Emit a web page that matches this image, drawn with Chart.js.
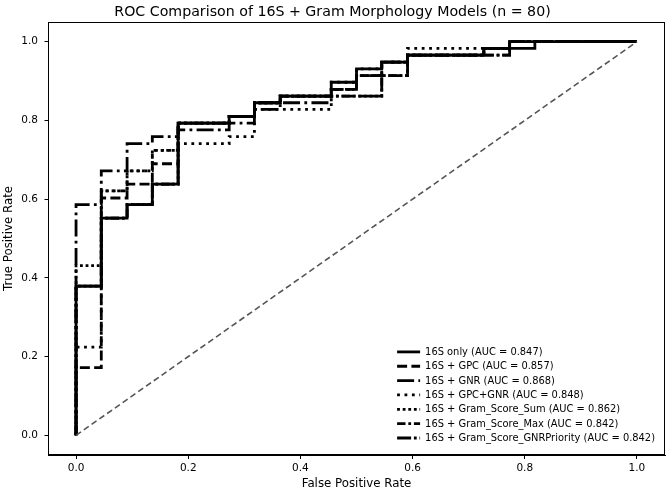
<!DOCTYPE html>
<html><head><meta charset="utf-8">
<script src="https://cdn.jsdelivr.net/npm/chart.js@4/dist/chart.umd.min.js"></script>
<style>html,body{margin:0;padding:0;background:#fff}#wrap{width:668px;height:492px}</style>
</head><body><div id="wrap"><canvas id="c" width="668" height="492"></canvas></div>
<script>
const chartTitle = 'ROC Comparison of 16S + Gram Morphology Models (n = 80)';
const xLabel = 'False Positive Rate';
const yLabel = 'True Positive Rate';
const tickValues = [0.0, 0.2, 0.4, 0.6, 0.8, 1.0];

const modelNames = [
  '16S only (AUC = 0.847)',
  '16S + GPC (AUC = 0.857)',
  '16S + GNR (AUC = 0.868)',
  '16S + GPC+GNR (AUC = 0.848)',
  '16S + Gram_Score_Sum (AUC = 0.862)',
  '16S + Gram_Score_Max (AUC = 0.842)',
  '16S + Gram_Score_GNRPriority (AUC = 0.842)'
];

const fpr16S = [0,0,0.045,0.045,0.091,0.091,0.136,0.136,0.182,0.182,0.273,0.273,0.318,0.318,0.364,0.364,0.455,0.455,0.5,0.5,0.545,0.545,0.591,0.591,0.727,0.727,0.818,0.818,1];
const tpr16S = [0,0.379,0.379,0.552,0.552,0.586,0.586,0.638,0.638,0.793,0.793,0.81,0.81,0.845,0.845,0.862,0.862,0.897,0.897,0.931,0.931,0.948,0.948,0.966,0.966,0.983,0.983,1,1];

const fprGPC = [0,0,0.045,0.045,0.091,0.091,0.136,0.136,0.182,0.182,0.273,0.273,0.318,0.318,0.364,0.364,0.455,0.455,0.5,0.5,0.545,0.545,0.591,0.591,0.727,0.727,0.773,0.773,1];
const tprGPC = [0,0.172,0.172,0.603,0.603,0.638,0.638,0.69,0.69,0.793,0.793,0.81,0.81,0.845,0.845,0.862,0.862,0.879,0.879,0.914,0.914,0.948,0.948,0.966,0.966,0.983,0.983,1,1];

const fprGNR = [0,0,0.045,0.045,0.091,0.091,0.136,0.136,0.182,0.182,0.273,0.273,0.318,0.318,0.364,0.364,0.455,0.455,0.5,0.5,0.545,0.545,0.591,0.591,0.727,0.727,0.773,0.773,1];
const tprGNR = [0,0.586,0.586,0.672,0.672,0.741,0.741,0.759,0.759,0.776,0.776,0.793,0.793,0.828,0.828,0.845,0.845,0.879,0.879,0.914,0.914,0.948,0.948,0.966,0.966,0.983,0.983,1,1];

const fprGPCGNR = [0,0,0.045,0.045,0.091,0.091,0.136,0.136,0.182,0.182,0.273,0.273,0.318,0.318,0.455,0.455,0.5,0.5,0.545,0.545,0.591,0.591,0.773,0.773,1];
const tprGPCGNR = [0,0.224,0.224,0.621,0.621,0.672,0.672,0.724,0.724,0.741,0.741,0.759,0.759,0.828,0.828,0.897,0.897,0.931,0.931,0.948,0.948,0.983,0.983,1,1];

const fprSum = [0,0,0.045,0.045,0.091,0.091,0.136,0.136,0.182,0.182,0.273,0.273,0.318,0.318,0.364,0.364,0.455,0.455,0.5,0.5,0.545,0.545,0.591,0.591,0.727,0.727,0.773,0.773,1];
const tprSum = [0,0.431,0.431,0.621,0.621,0.672,0.672,0.724,0.724,0.793,0.793,0.81,0.81,0.845,0.845,0.862,0.862,0.879,0.879,0.914,0.914,0.948,0.948,0.966,0.966,0.983,0.983,1,1];

const fprMax = [0,0,0.045,0.045,0.091,0.091,0.136,0.136,0.182,0.182,0.273,0.273,0.318,0.318,0.364,0.364,0.545,0.545,0.591,0.591,0.773,0.773,1];
const tprMax = [0,0.379,0.379,0.552,0.552,0.586,0.586,0.638,0.638,0.793,0.793,0.81,0.81,0.845,0.845,0.862,0.862,0.914,0.914,0.966,0.966,1,1];

const fprGNRP = [0,0,0.045,0.045,0.091,0.091,0.136,0.136,0.182,0.182,0.273,0.273,0.318,0.318,0.364,0.364,0.545,0.545,0.591,0.591,0.773,0.773,1];
const tprGNRP = [0,0.379,0.379,0.552,0.552,0.586,0.586,0.638,0.638,0.793,0.793,0.81,0.81,0.845,0.845,0.862,0.862,0.914,0.914,0.966,0.966,1,1];

const chanceX = [0, 1];
const chanceY = [0, 1];

const seriesX = [fpr16S, fprGPC, fprGNR, fprGPCGNR, fprSum, fprMax, fprGNRP];
const seriesY = [tpr16S, tprGPC, tprGNR, tprGPCGNR, tprSum, tprMax, tprGNRP];
const dashes = [[], [10, 4.3], [17, 4.3, 2.8, 4.3], [2.8, 4.6], [2.8, 2.8], [8.4, 2.8, 2.8, 2.8], [14, 2.8, 2.8, 2.8]];

const FONT = 'DejaVu Sans';
const LW = 2.8;

function pts(xs, ys) { return xs.map((x, i) => ({x: x, y: ys[i]})); }

const datasets = seriesX.map((xs, i) => ({
  label: modelNames[i],
  data: pts(xs, seriesY[i]),
  borderColor: '#000',
  backgroundColor: '#000',
  borderWidth: LW,
  borderDash: dashes[i],
  borderCapStyle: 'butt',
  borderJoinStyle: 'miter',
  showLine: true,
  pointRadius: 0,
  fill: false,
  tension: 0,
  order: 10 - i
}));
datasets.push({
  label: '_chance',
  data: pts(chanceX, chanceY),
  borderColor: '#555',
  borderWidth: 1.6,
  borderDash: [6, 3.5],
  showLine: true,
  pointRadius: 0,
  fill: false,
  order: 0
});

const framePlugin = {
  id: 'frame',
  afterDraw(chart) {
    const a = chart.chartArea, ctx = chart.ctx;
    ctx.save();
    ctx.strokeStyle = '#000';
    ctx.lineWidth = 1;
    ctx.strokeRect(Math.round(a.left) + 0.5, Math.round(a.top) + 0.5, Math.round(a.right - a.left) - 1, Math.round(a.bottom - a.top) - 1);
    ctx.restore();
  }
};

const legendPlugin = {
  id: 'cornerLegend',
  afterDraw(chart) {
    const ctx = chart.ctx, a = chart.chartArea;
    const n = modelNames.length;
    const rowH = 14.35;
    const fs = 9.9;
    ctx.save();
    ctx.font = fs + 'px "' + FONT + '"';
    let maxW = 0;
    modelNames.forEach(t => { maxW = Math.max(maxW, ctx.measureText(t).width); });
    const handleLen = 23, gap = 5;
    const textRight = a.right - 10;
    const textLeft = textRight - maxW;
    const lastRowY = a.bottom - 17;
    for (let i = 0; i < n; i++) {
      const cy = lastRowY - rowH * (n - 1 - i);
      ctx.strokeStyle = '#000';
      ctx.lineWidth = LW;
      ctx.lineCap = 'butt';
      ctx.setLineDash(dashes[i]);
      ctx.beginPath();
      ctx.moveTo(textLeft - gap - handleLen, cy);
      ctx.lineTo(textLeft - gap, cy);
      ctx.stroke();
      ctx.setLineDash([]);
      ctx.fillStyle = '#000';
      ctx.textBaseline = 'middle';
      ctx.textAlign = 'left';
      ctx.fillText(modelNames[i], textLeft, cy + 0.5);
    }
    ctx.restore();
  }
};

const tickFont = {family: FONT, size: 10.5};
const labelFont = {family: FONT, size: 11.8};

new Chart(document.getElementById('c'), {
  type: 'scatter',
  data: {datasets: datasets},
  options: {
    responsive: false,
    animation: false,
    devicePixelRatio: 1,
    layout: {padding: {left: 0, right: 3, top: 0, bottom: 0}},
    plugins: {
      legend: {display: false},
      tooltip: {enabled: false},
      title: {display: true, text: chartTitle, color: '#000', font: {family: FONT, size: 14.2, weight: 'normal', lineHeight: 1.2}, padding: {top: 4, bottom: 1}}
    },
    scales: {
      x: {
        type: 'linear', min: -0.05, max: 1.05,
        afterBuildTicks: s => { s.ticks = tickValues.map(v => ({value: v})); },
        afterFit: s => { s.height = 37; },
        ticks: {callback: v => Number(v).toFixed(1), color: '#000', font: tickFont, padding: 3, maxRotation: 0, autoSkip: false},
        grid: {display: true, drawOnChartArea: false, drawTicks: true, tickLength: 4, color: '#000'},
        border: {display: true, color: '#000'},
        title: {display: true, text: xLabel, color: '#000', font: labelFont, padding: {top: 0, bottom: 1}}
      },
      y: {
        type: 'linear', min: -0.05, max: 1.05,
        afterBuildTicks: s => { s.ticks = tickValues.map(v => ({value: v})); },
        afterFit: s => { s.width = 48; },
        ticks: {callback: v => Number(v).toFixed(1), color: '#000', font: tickFont, padding: 6.5, autoSkip: false},
        grid: {display: true, drawOnChartArea: false, drawTicks: true, tickLength: 3.5, color: '#000'},
        border: {display: true, color: '#000'},
        title: {display: true, text: yLabel, color: '#000', font: labelFont, padding: {top: 2, bottom: 0}}
      }
    }
  },
  plugins: [framePlugin, legendPlugin]
});
</script></body></html>
